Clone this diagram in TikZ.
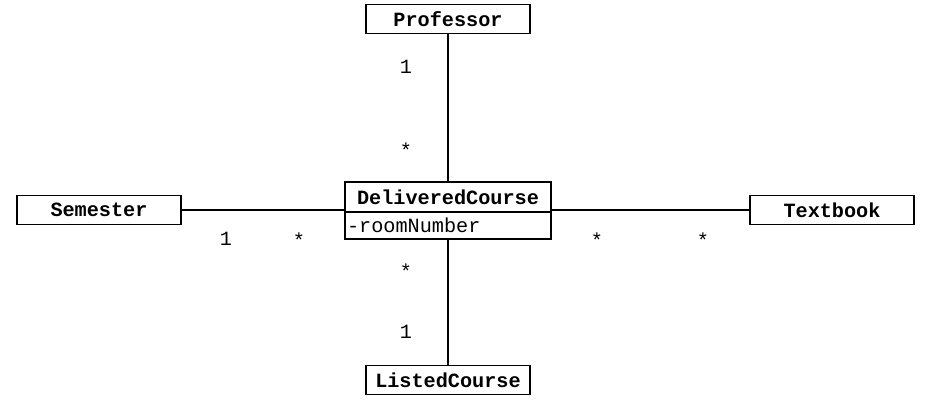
\documentclass[tikz,border=0pt]{standalone}
\usepackage{fontspec}
\setmonofont{Liberation Mono}
\usepackage{tikz}

\begin{document}
\begin{tikzpicture}[x=0.02cm,y=-0.02cm,
  cls/.style={draw,line width=1.1pt,font=\ttfamily\bfseries\fontsize{11.5}{13}\selectfont,
    minimum width=3.28cm,minimum height=0.58cm,inner sep=0pt,outer sep=0pt},
  mult/.style={font=\ttfamily\fontsize{11.5}{13}\selectfont,inner sep=0pt}]
\useasboundingbox (0,0) rectangle (934,403);
\node [cls] (prof) at (448,19) {Professor};
\node [cls] (sem) at (99,210) {Semester};
\node [cls] (tb) at (832,210) {Textbook};
\node [cls] (lc) at (448,380) {ListedCourse};
\node [cls,minimum width=4.12cm,minimum height=0.6cm] (dc) at (448,197) {DeliveredCourse};
\node [cls,font=\ttfamily\fontsize{11.5}{13}\selectfont,anchor=north,minimum height=0.54cm,
  minimum width=4.12cm,text width=4.04cm,inner xsep=0.04cm,align=left] (dcattr) at (dc.south) {-roomNumber};
\draw [line width=0.6pt] (prof) -- (dc);
\draw [line width=0.6pt] (dcattr) -- (lc);
\draw [line width=0.6pt] (sem) -- (sem -| dc.west);
\draw [line width=0.6pt] (tb) -- (tb -| dc.east);
\node [mult] (m1) at (406,67) {1};
\node [mult] (m2) at (406,150) {*};
\node [mult] (m3) at (226,239) {1};
\node [mult] (m4) at (299,240) {*};
\node [mult] (m5) at (406,271) {*};
\node [mult] (m6) at (406,332) {1};
\node [mult] (m7) at (597,240) {*};
\node [mult] (m8) at (703,240) {*};
\end{tikzpicture}
\end{document}
